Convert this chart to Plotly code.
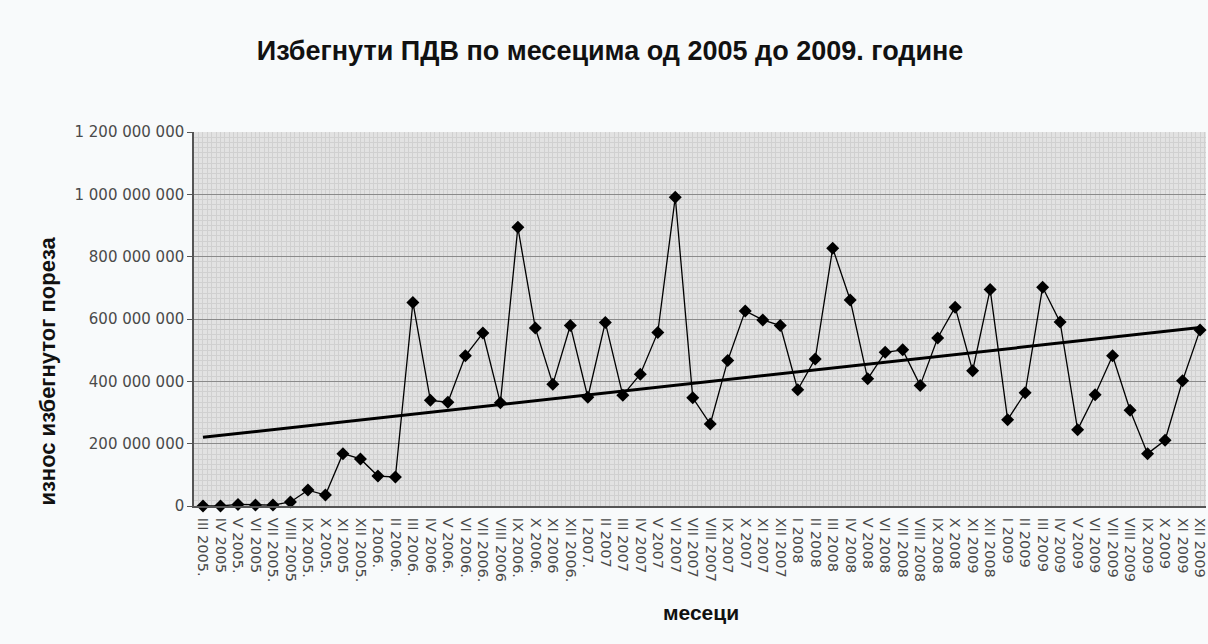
import numpy as np
import plotly.graph_objects as go

# Month labels as printed on the category axis
months = [
    "III 2005.", "IV 2005", "V 2005.", "VI 2005", "VII 2005.", "VIII 2005", "IX 2005.", "X 2005.", "XI 2005", "XII 2005.",
    "I 2006.", "II 2006.", "III 2006.", "IV 2006", "V 2006.", "VI 2006.", "VII 2006.", "VIII 2006", "IX 2006.", "X 2006.", "XI 2006", "XII 2006.",
    "I 2007.", "II 2007", "III 2007", "IV 2007", "V 2007", "VI 2007", "VII 2007", "VIII 2007", "IX 2007", "X 2007", "XI 2007", "XII 2007",
    "I 2008", "II 2008", "III 2008", "IV 2008", "V 2008", "VI 2008", "VII 2008", "VIII 2008", "IX 2008", "X 2008", "XI 2009", "XII 2008",
    "I 2009", "II 2009", "III 2009", "IV 2009", "V 2009", "VI 2009", "VII 2009", "VIII 2009", "IX 2009", "X 2009", "XI 2009", "XII 2009",
]

# Evaded VAT per month (dinars)
evaded_vat = [
    0, 0, 5e6, 3e6, 3e6, 13e6, 51e6, 35e6, 168e6, 151e6,
    96e6, 93e6, 653e6, 339e6, 333e6, 482e6, 555e6, 331e6, 894e6, 571e6, 391e6, 579e6,
    349e6, 589e6, 355e6, 423e6, 557e6, 991e6, 347e6, 263e6, 467e6, 626e6, 597e6, 579e6,
    373e6, 472e6, 827e6, 661e6, 408e6, 493e6, 501e6, 387e6, 539e6, 638e6, 434e6, 695e6,
    277e6, 363e6, 702e6, 590e6, 245e6, 357e6, 482e6, 307e6, 168e6, 211e6, 402e6, 565e6,
]

y_ticks = [0, 200e6, 400e6, 600e6, 800e6, 1000e6, 1200e6]

x = np.arange(len(months))
y = np.array(evaded_vat)

# Linear trend (least squares)
slope, intercept = np.polyfit(x, y, 1)
trend = slope * x + intercept

fig = go.Figure()
fig.add_trace(go.Scatter(
    x=x, y=trend, mode="lines",
    line=dict(color="#000000", width=3),
    hoverinfo="skip", showlegend=False,
))
fig.add_trace(go.Scatter(
    x=x, y=y, mode="lines+markers",
    line=dict(color="#000000", width=1.3),
    marker=dict(symbol="diamond", size=10, color="#000000"),
    cliponaxis=False, showlegend=False,
))

title_font = "Liberation Sans, Arial, sans-serif"
tick_font = "DejaVu Sans, Verdana, sans-serif"

fig.update_layout(
    width=1208, height=644,
    margin=dict(l=194, r=0, t=132, b=138),
    paper_bgcolor="#f8fafb",
    plot_bgcolor="#e2e2e2",
    separators=". ",
    font=dict(family=tick_font, color="#4a4a4a", size=15),
    title=dict(
        text="Избегнути ПДВ по месецима од 2005 до 2009. године",
        x=0.505, xanchor="center", y=0.922, yanchor="middle",
        font=dict(family=title_font, size=27, color="#111111", weight="bold"),
    ),
    showlegend=False,
)

fig.update_xaxes(
    range=[-0.514, 57.34],
    tickmode="array", tickvals=x, ticktext=months,
    tickangle=90, tickfont=dict(family=tick_font, size=14.5, color="#4a4a4a"),
    ticklabelstandoff=7, ticklabeloverflow="allow",
    showgrid=False, zeroline=False,
    showline=True, linecolor="#555555", linewidth=1.5,
    ticks="",
    minor=dict(tickmode="linear", tick0=-0.5, dtick=0.25,
               showgrid=True, gridcolor="#d0d0d0", gridwidth=1),
)
fig.update_yaxes(
    range=[0, 1.2e9],
    tickmode="array", tickvals=y_ticks, tickformat=",d",
    tickfont=dict(family=tick_font, size=15, color="#4a4a4a"),
    showgrid=True, gridcolor="#8a8a8a", gridwidth=1,
    zeroline=False,
    showline=True, linecolor="#555555", linewidth=1.5,
    ticks="outside", ticklen=5, tickcolor="#555555",
    minor=dict(tickmode="linear", tick0=0, dtick=200e6 / 12,
               showgrid=True, gridcolor="#d0d0d0", gridwidth=1),
)

# Axis titles placed as annotations
fig.add_annotation(
    text="износ избегнутог пореза", textangle=-90,
    xref="paper", yref="paper", x=-0.145, y=0.36,
    xanchor="center", yanchor="middle", showarrow=False,
    font=dict(family=title_font, size=22, color="#111111", weight="bold"),
)
fig.add_annotation(
    text="месеци",
    xref="paper", yref="paper", x=0.501, y=-0.285,
    xanchor="center", yanchor="middle", showarrow=False,
    font=dict(family=title_font, size=21, color="#111111", weight="bold"),
)

fig.write_html("out.html")
